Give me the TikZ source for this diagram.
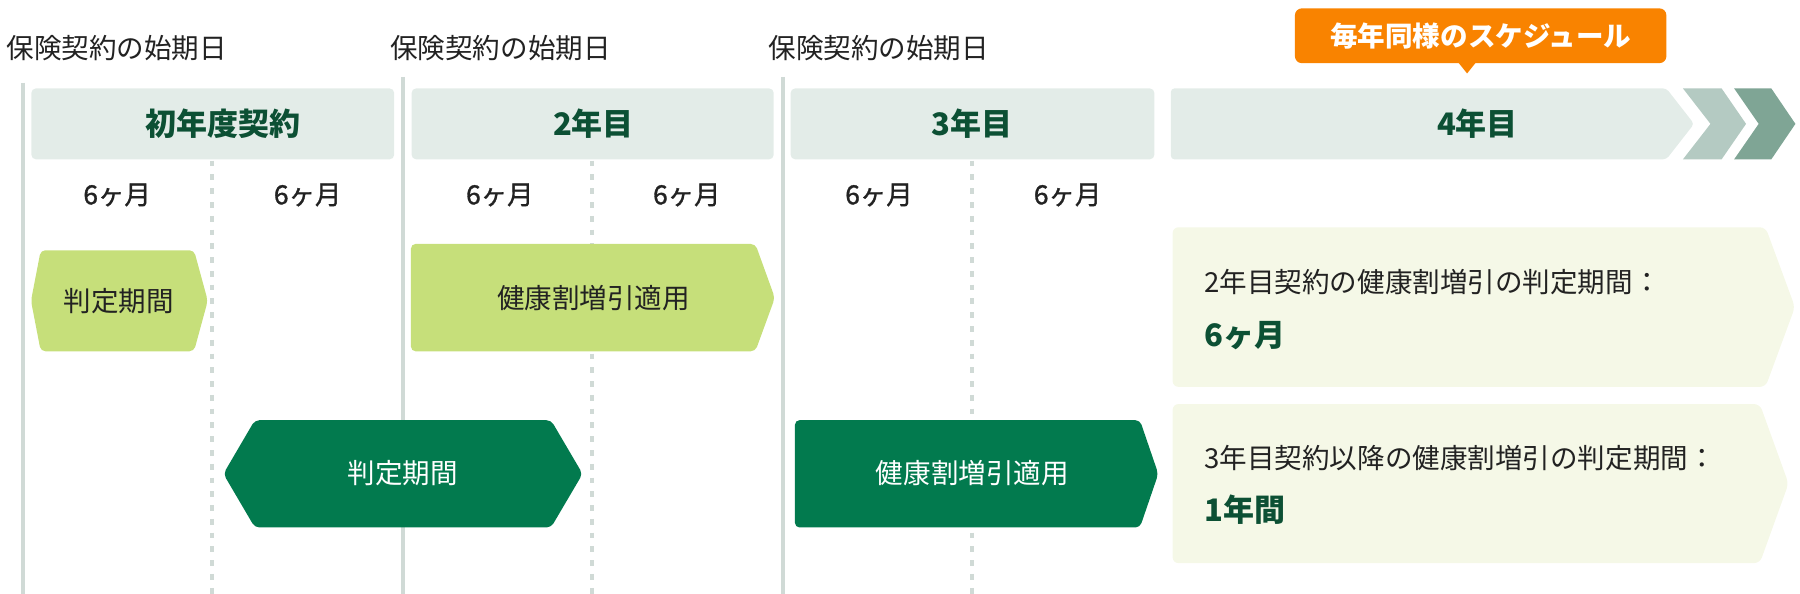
\documentclass[tikz,border=0pt]{standalone}
\usepackage{fontspec}
\setmainfont{Noto Sans CJK JP}
\newfontfamily\monthfont{Noto Sans CJK JP}[FakeBold=1.2]
\definecolor{rulegray}{RGB}{208,218,214}
\definecolor{headfill}{RGB}{227,236,232}
\definecolor{headtext}{RGB}{12,80,52}
\definecolor{lightgreen}{RGB}{198,223,122}
\definecolor{darkgreen}{RGB}{2,122,78}
\definecolor{notefill}{RGB}{245,248,231}
\definecolor{calloutorange}{RGB}{249,131,0}
\definecolor{chevlight}{RGB}{180,202,194}
\definecolor{chevdark}{RGB}{127,165,149}
\definecolor{ink}{RGB}{34,34,34}
\begin{document}
\begin{tikzpicture}[x=1pt,y=-1pt,
	body/.style={inner sep=0pt,text=ink,font=\fontsize{24}{28}\selectfont},
	month/.style={inner sep=0pt,text=ink,font=\monthfont\fontsize{23}{28}\selectfont},
	head/.style={inner sep=0pt,text=headtext,font=\fontsize{27}{30}\selectfont\bfseries},
	yearline/.style={line width=3.5pt,rulegray},
	halfline/.style={line width=3.5pt,rulegray,dash pattern=on 5pt off 7pt}]
	\useasboundingbox (0,0) rectangle (1568,517);

	\draw[yearline] (20,72) -- (20,517);
	\draw[yearline] (350.7,67) -- (350.7,517);
	\draw[yearline] (681.7,67) -- (681.7,517);
		\draw[halfline] (185,140) -- (185,517);
		\draw[halfline] (516,140) -- (516,517);
		\draw[halfline] (847,140) -- (847,517);

	\node[body] (start1) at (101.7,42) {保険契約の始期日};
	\node[body] (start2) at (436,42) {保険契約の始期日};
	\node[body] (start3) at (765.5,42) {保険契約の始期日};

	% callout
	\fill[calloutorange,rounded corners=6pt] (1128,7.3) rectangle (1451.6,55);
	\fill[calloutorange] (1270,54) -- (1286,54) -- (1278,64) -- cycle;
	\node[inner sep=0pt,text=white,font=\fontsize{24}{28}\selectfont\bfseries] (same) at (1290,31) {毎年同様のスケジュール};

	% year headers
	\fill[headfill,rounded corners=4pt] (27.3,77) rectangle (343.4,138.8);
	\fill[headfill,rounded corners=4pt] (358.5,77) rectangle (674,138.8);
	\fill[headfill,rounded corners=4pt] (688.7,77) rectangle (1005.6,138.8);
	\fill[headfill,rounded corners=3pt] (1020,77) -- (1451.6,77) -- (1475.7,107.9) -- (1451.6,138.8) -- (1020,138.8) -- cycle;
		\fill[chevlight] (1466,77) -- (1499.7,77) -- (1521,107.9) -- (1499.7,138.8) -- (1466,138.8) -- (1490,107.9) -- cycle;
		\fill[chevdark] (1510.6,77) -- (1543,77) -- (1564,107.9) -- (1543,138.8) -- (1510.6,138.8) -- (1532,107.9) -- cycle;
	\node[head] (year1) at (194,108) {初年度契約};
	\node[head] (year2) at (517,108) {2年目};
	\node[head] (year3) at (847,108) {3年目};
	\node[head] (year4) at (1287,108) {4年目};

	\node[month] (m1) at (102,169.8) {6ヶ月};
	\node[month] (m2) at (268,169.8) {6ヶ月};
	\node[month] (m3) at (435.4,169.8) {6ヶ月};
	\node[month] (m4) at (598.3,169.8) {6ヶ月};
	\node[month] (m5) at (765.7,169.8) {6ヶ月};
	\node[month] (m6) at (930,169.8) {6ヶ月};

	% periods
	\fill[lightgreen,rounded corners=4pt] (27,262) -- (35.5,218) -- (169,218) -- (181,262) -- (169,306) -- (35.5,306) -- cycle;
	\fill[lightgreen,rounded corners=4pt] (358,212.5) -- (658,212.5) -- (675,259.5) -- (658,306) -- (358,306) -- cycle;
	\fill[darkgreen,rounded corners=4pt] (194.6,412.8) -- (222,366) -- (480,366) -- (507.5,412.8) -- (480,459.5) -- (222,459.5) -- cycle;
	\fill[darkgreen,rounded corners=4pt] (692.5,366) -- (993,366) -- (1009,412.8) -- (993,459.5) -- (692.5,459.5) -- cycle;
	\node[body] (judge1) at (103.5,262) {判定期間};
	\node[body] (apply2) at (517,259.5) {健康割増引適用};
	\node[body,text=white] (judge2) at (351,412.5) {判定期間};
	\node[body,text=white] (apply3) at (847,412.5) {健康割増引適用};

	% notes
	\fill[notefill,rounded corners=5pt] (1021.5,198) -- (1538,198) -- (1563.6,267.5) -- (1538,337) -- (1021.5,337) -- cycle;
	\fill[notefill,rounded corners=5pt] (1021.5,352) -- (1533,352) -- (1558,421.2) -- (1533,490.5) -- (1021.5,490.5) -- cycle;
		\node[body,anchor=west] (note1) at (1049,245.3) {2年目契約の健康割増引の判定期間：};
		\node[head,anchor=west] (note1val) at (1049,292) {6ヶ月};
		\node[body,anchor=west] (note2) at (1049,399) {3年目契約以降の健康割増引の判定期間：};
		\node[head,anchor=west] (note2val) at (1049,444) {1年間};
\end{tikzpicture}
\end{document}
